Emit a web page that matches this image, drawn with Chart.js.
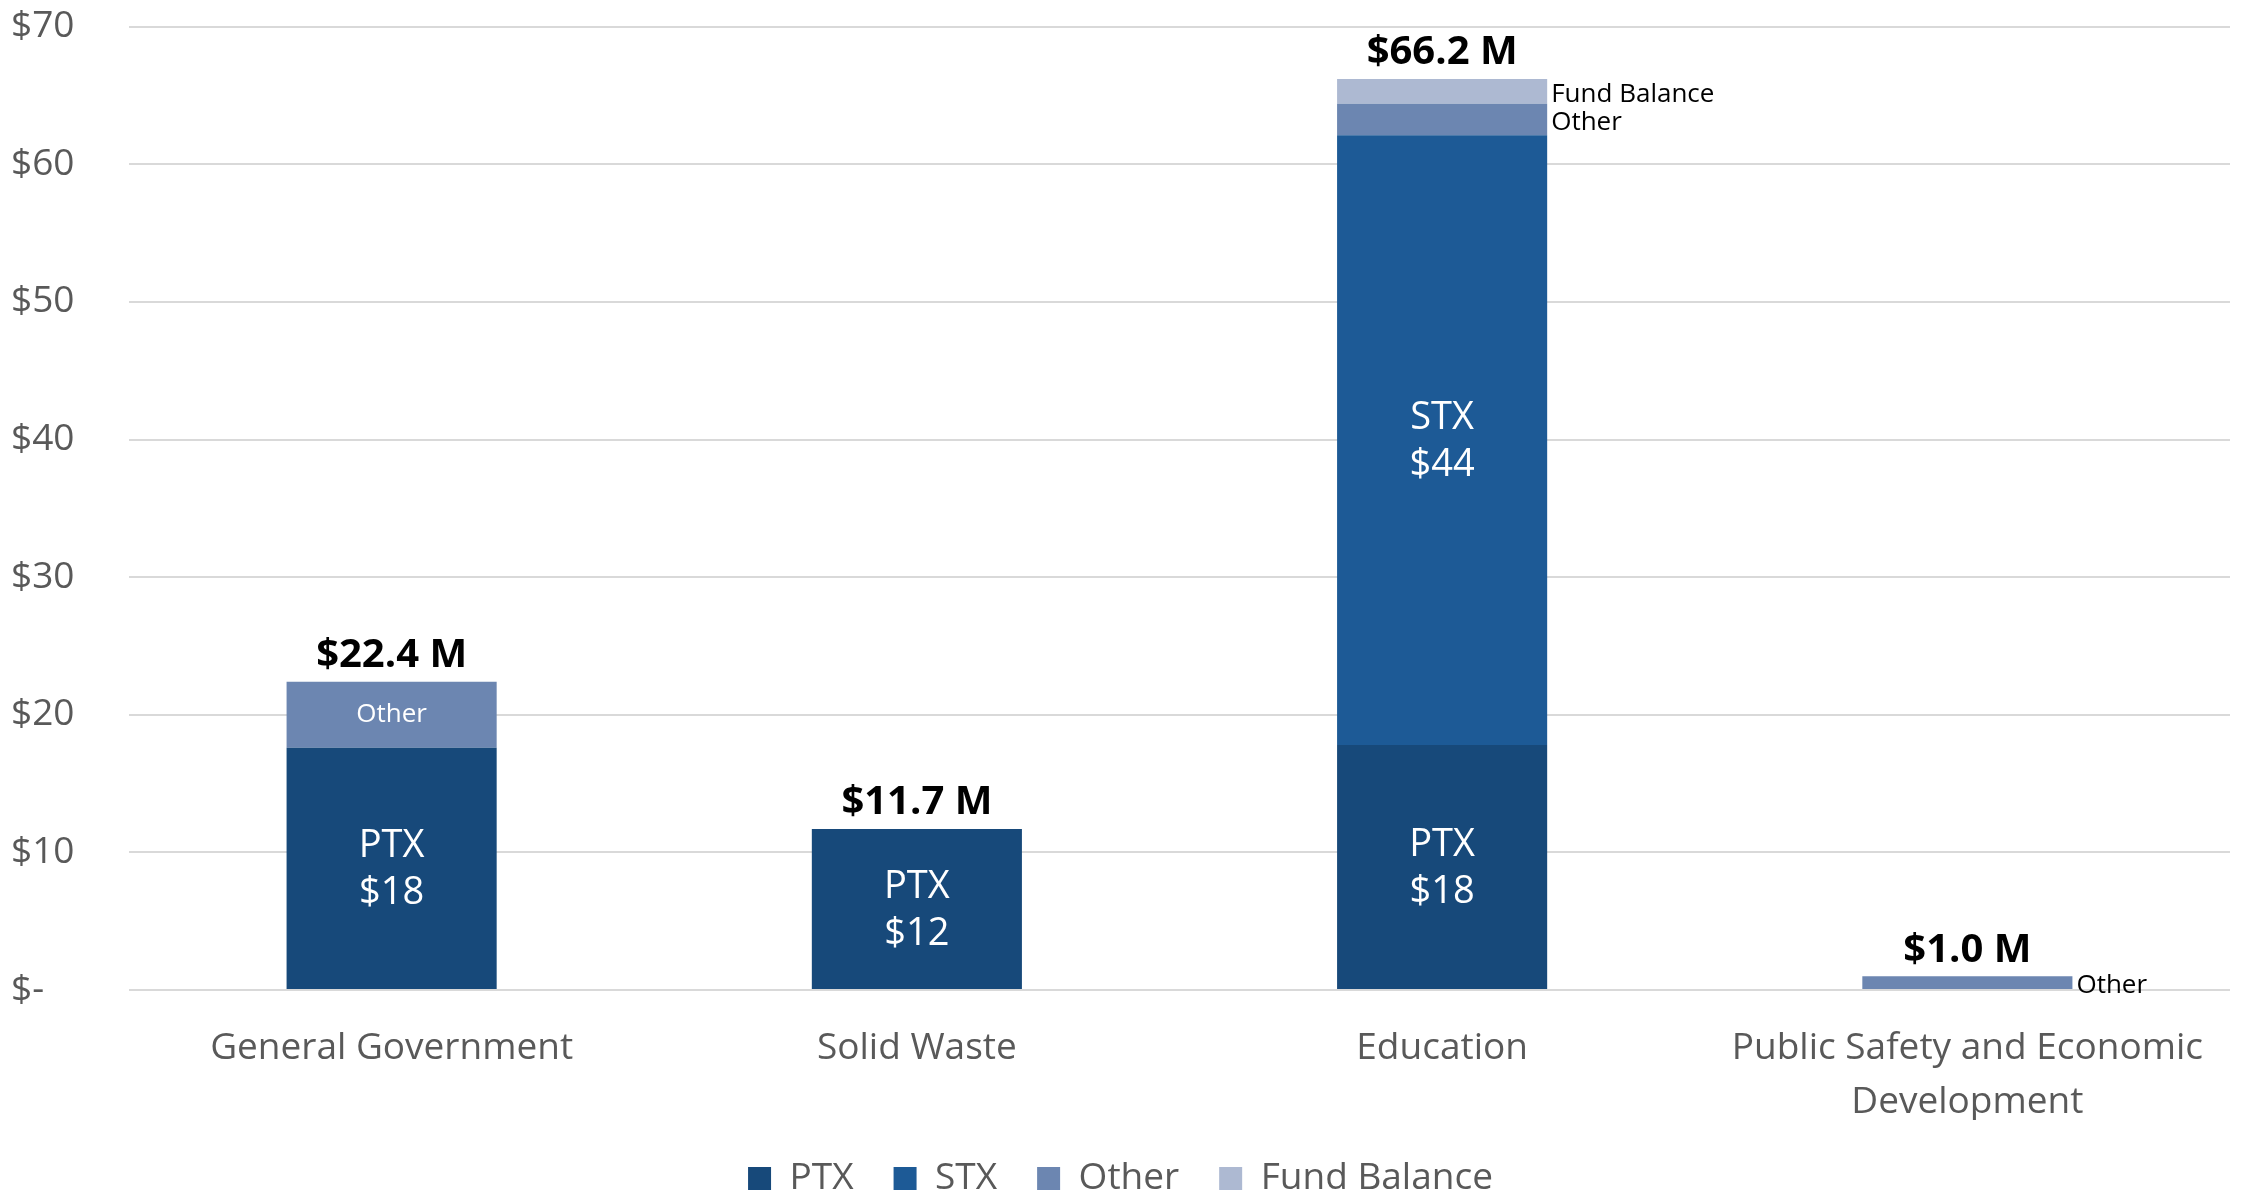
<!DOCTYPE html>
<html>
<head>
<meta charset="utf-8">
<script src="https://cdn.jsdelivr.net/npm/chart.js@4"></script>
<style>
  html, body { margin: 0; padding: 0; background: #fff; }
  #wrap { width: 2249px; height: 1195px; }
</style>
</head>
<body>
<div id="wrap"><canvas id="myChart" width="2249" height="1195"></canvas></div>
<script>
// Categories and series (in $ millions)
var categories = ['General Government', 'Solid Waste', 'Education', ['Public Safety and Economic', 'Development']];
var ptx = [17.6, 11.7, 17.8, 0];
var stx = [0, 0, 44.3, 0];
var other = [4.8, 0, 2.3, 1.0];
var fundBalance = [0, 0, 1.8, 0];
var totals = ['$22.4 M', '$11.7 M', '$66.2 M', '$1.0 M'];
var ptxLabels = ['$18', '$12', '$18', ''];
var stxLabels = ['', '', '$44', ''];
var yTicks = [0, 10, 20, 30, 40, 50, 60, 70];

var FONT = "'Open Sans', 'Noto Sans', sans-serif";

// Draws the in-bar labels, side labels and the bold totals
var labelPlugin = {
    id: 'barLabels',
    afterDatasetsDraw: function(chart) {
        var ctx = chart.ctx;
        var y = chart.scales.y;
        ctx.save();
        chart.data.datasets.forEach(function(ds, di) {
            var meta = chart.getDatasetMeta(di);
            meta.data.forEach(function(bar, i) {
                var v = ds.data[i];
                if (!v) return;
                var h = Math.abs(bar.base - bar.y);
                var mid = (bar.y + bar.base) / 2;
                if (h > 60) {
                    ctx.fillStyle = '#ffffff';
                    ctx.textAlign = 'center';
                    ctx.textBaseline = 'middle';
                    if (ds.valueLabels) {
                        ctx.font = '38px ' + FONT;
                        ctx.fillText(ds.label, bar.x, mid - 22);
                        ctx.fillText(ds.valueLabels[i], bar.x, mid + 25);
                    } else {
                        ctx.font = '26px ' + FONT;
                        ctx.fillText(ds.label, bar.x, mid);
                    }
                } else {
                    ctx.fillStyle = '#000000';
                    ctx.textAlign = 'left';
                    ctx.textBaseline = 'middle';
                    ctx.font = '26px ' + FONT;
                    ctx.fillText(ds.label, bar.x + bar.width / 2 + 4, mid + 3);
                }
            });
        });
        // totals
        var meta0 = chart.getDatasetMeta(0);
        ctx.fillStyle = '#000000';
        ctx.textAlign = 'center';
        ctx.textBaseline = 'middle';
        ctx.font = 'bold 40px ' + FONT;
        for (var i = 0; i < categories.length; i++) {
            var sum = ptx[i] + stx[i] + other[i] + fundBalance[i];
            var top = y.getPixelForValue(sum);
            ctx.fillText(totals[i], meta0.data[i].x, top - 26);
        }
        ctx.restore();
    }
};

var ctx = document.getElementById('myChart').getContext('2d');
var myChart = new Chart(ctx, {
    type: 'bar',
    data: {
        labels: categories,
        datasets: [
            { label: 'PTX', data: ptx, backgroundColor: '#17497a', valueLabels: ptxLabels },
            { label: 'STX', data: stx, backgroundColor: '#1d5a96', valueLabels: stxLabels },
            { label: 'Other', data: other, backgroundColor: '#6c86b1' },
            { label: 'Fund Balance', data: fundBalance, backgroundColor: '#adb9d2' }
        ]
    },
    options: {
        responsive: false,
        animation: false,
        layout: { padding: { left: 11, right: 19, top: 0, bottom: -12 } },
        datasets: {
            bar: { categoryPercentage: 1.0, barPercentage: 0.4, borderWidth: 0 }
        },
        scales: {
            x: {
                stacked: true,
                grid: { display: false },
                border: { display: false },
                afterFit: function(scale) { scale.height = 130; },
                ticks: {
                    color: '#595959',
                    font: { family: FONT, size: 37, lineHeight: 1.45 },
                    padding: 24,
                    maxRotation: 0,
                    autoSkip: false
                }
            },
            y: {
                stacked: true,
                min: 0,
                max: 70,
                afterBuildTicks: function(scale) {
                    scale.ticks = yTicks.map(function(v) { return { value: v }; });
                },
                afterFit: function(scale) { scale.width = 118; },
                grid: { color: '#d9d9d9', lineWidth: 2, drawTicks: false },
                border: { display: false },
                ticks: {
                    color: '#595959',
                    font: { family: FONT, size: 37, lineHeight: 0.9 },
                    crossAlign: 'far',
                    padding: 10,
                    callback: function(v) { return v === 0 ? '$-' : '$' + v; }
                }
            }
        },
        plugins: {
            legend: {
                position: 'bottom',
                labels: {
                    color: '#595959',
                    font: { family: FONT, size: 37 },
                    boxWidth: 23,
                    boxHeight: 23,
                    padding: 40
                }
            },
            tooltip: { enabled: false }
        }
    },
    plugins: [labelPlugin]
});
</script>
</body>
</html>
